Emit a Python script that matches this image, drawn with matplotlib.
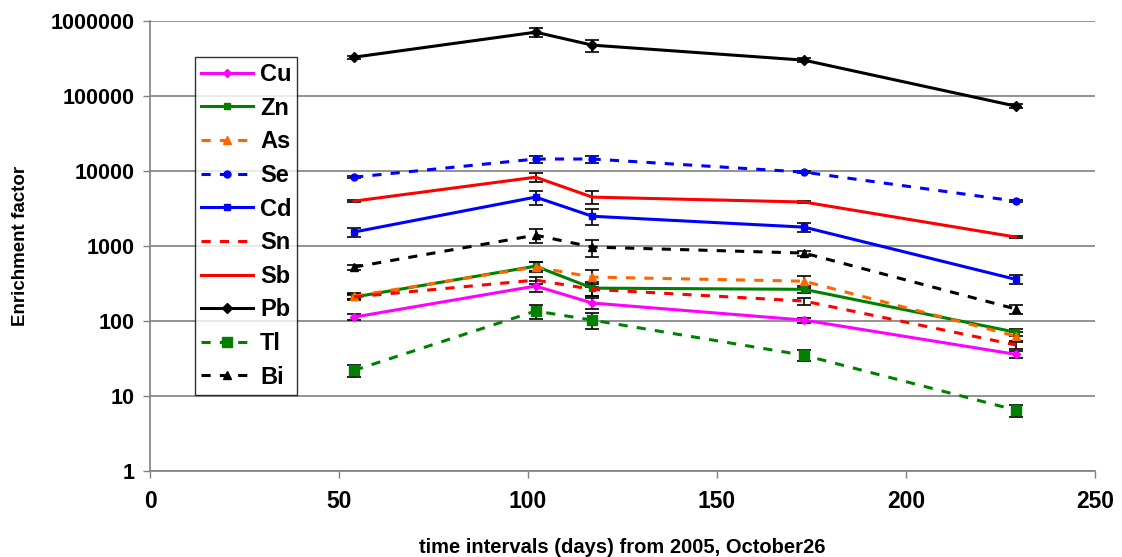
import matplotlib
matplotlib.use("Agg")
import matplotlib.pyplot as plt

plt.rcParams['font.family'] = ['Liberation Sans', 'DejaVu Sans']
plt.rcParams['font.weight'] = 'bold'

# sampling times (days from 2005, October 26)
days = [54, 102, 117, 173, 229]

# enrichment factors
cu = [113, 293, 174, 103, 36]
zn = [209, 540, 275, 265, 71]
as_ = [215, 525, 386, 340, 63]
se = [8300, 14500, 14500, 9700, 3980]
cd = [1540, 4500, 2500, 1790, 360]
sn = [210, 352, 265, 185, 48]
sb = [3980, 8300, 4500, 3870, 1320]
pb = [331000, 713000, 479000, 302000, 73600]
tl = [22, 136, 103, 35, 6.5]
bi = [525, 1400, 970, 807, 145]

# error bars (absolute)
cu_err = [10, 50, 30, 8, 4]
zn_err = [20, 80, 60, 30, 8]
as_err = [20, 80, 100, 60, 8]
se_err = [300, 1500, 1500, 400, 150]
cd_err = [200, 1000, 600, 250, 50]
sn_err = [15, 40, 50, 20, 5]
sb_err = [150, 1200, 900, 150, 50]
pb_err = [15000, 100000, 90000, 20000, 5000]
tl_err = [4, 30, 25, 6, 1.2]
bi_err = [40, 300, 250, 60, 20]

series = [
    ("Cu", cu, cu_err, dict(color='#FF00FF', ls='-', marker='D', ms=4)),
    ("Zn", zn, zn_err, dict(color='#008000', ls='-', marker='s', ms=4)),
    ("As", as_, as_err, dict(color='#FF6600', ls='--', marker='^', ms=6)),
    ("Se", se, se_err, dict(color='#0000FF', ls='--', marker='o', ms=5)),
    ("Cd", cd, cd_err, dict(color='#0000FF', ls='-', marker='s', ms=5)),
    ("Sn", sn, sn_err, dict(color='#FF0000', ls='--', marker=None, ms=0)),
    ("Sb", sb, sb_err, dict(color='#FF0000', ls='-', marker=None, ms=0)),
    ("Pb", pb, pb_err, dict(color='#000000', ls='-', marker='D', ms=5)),
    ("Tl", tl, tl_err, dict(color='#008000', ls='--', marker='s', ms=7)),
    ("Bi", bi, bi_err, dict(color='#000000', ls='--', marker='^', ms=5.5)),
]

fig = plt.figure(figsize=(11.22, 5.57), dpi=100)
ax = fig.add_axes([0.1337, 0.1544, 0.976 - 0.1337, 0.962 - 0.1544])

handles = []
for name, vals, errs, st in series:
    ax.errorbar(days, vals, yerr=errs, fmt='none', ecolor='black',
                elinewidth=1.2, capsize=5, capthick=1.2, zorder=3)
    h, = ax.plot(days, vals, color=st['color'], linestyle=st['ls'],
                 marker=st['marker'], markersize=st['ms'], linewidth=2.2,
                 dashes=(3, 3) if st['ls'] == '--' else (None, None),
                 label=name, zorder=4)
    handles.append(h)

ax.set_yscale('log')
ax.set_ylim(1, 1000000)
ax.set_xlim(0, 250)
ax.set_yticks([1, 10, 100, 1000, 10000, 100000, 1000000])
ax.set_yticklabels(['1', '10', '100', '1000', '10000', '100000', '1000000'])
ax.minorticks_off()
ax.set_xticks([0, 50, 100, 150, 200, 250])
ax.tick_params(axis='both', direction='out', length=5,
               color='#808080', width=1)
ax.tick_params(axis='y', labelsize=15.5, pad=6)
ax.tick_params(axis='x', labelsize=16.5, pad=9)
for lab in ax.get_xticklabels() + ax.get_yticklabels():
    lab.set_fontweight('bold')

ax.grid(axis='y', color='#808080', linewidth=1.2)
ax.set_axisbelow(True)
for s in ['top', 'right']:
    ax.spines[s].set_visible(False)
for s in ['left', 'bottom']:
    ax.spines[s].set_color('#808080')
    ax.spines[s].set_linewidth(1.2)

ax.set_xlabel('time intervals (days) from 2005, October26', fontsize=14.5,
              fontweight='bold', labelpad=18)
ax.set_ylabel('Enrichment factor', fontsize=13.5, fontweight='bold', labelpad=16)

leg = ax.legend(handles=handles, loc='upper left', bbox_to_anchor=(0.0476, 0.92),
                prop={'weight': 'bold', 'size': 17},
                frameon=True, fancybox=False, edgecolor='black',
                handlelength=2.2, labelspacing=0.45, borderpad=0.25,
                handletextpad=0.3, borderaxespad=0)
leg.get_frame().set_linewidth(1)

fig.savefig('out.png', dpi=100)
